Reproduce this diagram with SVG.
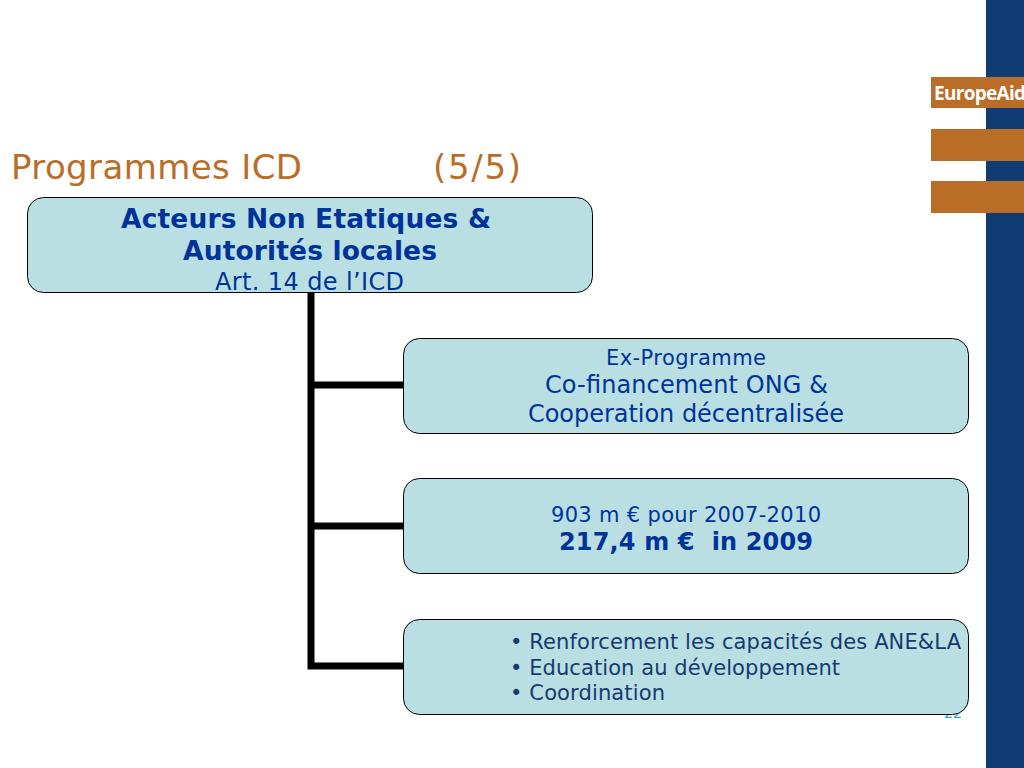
<svg xmlns="http://www.w3.org/2000/svg" width="1024" height="768" viewBox="0 0 1024 768">
<style>
text{font-family:"DejaVu Sans",Verdana,sans-serif;fill:#003399;white-space:pre}
.box{fill:#b9dfe3;stroke:#000;stroke-width:1}
.conn{fill:none;stroke:#000;stroke-width:7}
.or{fill:#b96d27}
.title{fill:#b96d27;font-size:34px}
.dark{fill:#16396f}
</style>
<rect width="1024" height="768" fill="#fff"/>
<rect x="986" y="0" width="38" height="768" fill="#0f3c73"/>
<rect class="or" x="931" y="77" width="93" height="31"/>
<rect class="or" x="931" y="129" width="93" height="32"/>
<rect class="or" x="931" y="181" width="93" height="32"/>
<text x="934" y="100" font-size="19" font-weight="bold" textLength="92" style="fill:#fff;font-family:'Open Sans',sans-serif">EuropeAid</text>
<text class="title" x="11" y="179" textLength="291">Programmes ICD</text>
<text class="title" x="433" y="179" textLength="88">(5/5)</text>
<text x="944" y="718" font-size="14" textLength="18" style="fill:#2f9fe0">22</text>
<g id="connectors">
<path class="conn" d="M311 293V666H404M311 385H404M311 526H404"/>
</g>
<g id="node-top">
<rect class="box" x="27.500" y="197.500" width="565" height="95" rx="16"/>
<text x="121" y="228" font-size="26.500" font-weight="bold" textLength="370">Acteurs Non Etatiques &amp;</text>
<text x="183" y="260" font-size="26.500" font-weight="bold" textLength="254">Autorités locales</text>
<text x="215" y="290" font-size="24" textLength="189">Art. 14 de l’ICD</text>
</g>
<g id="node-ex">
<rect class="box" x="403.500" y="338.500" width="565" height="95" rx="16"/>
<text x="606" y="365" font-size="21" textLength="160">Ex-Programme</text>
<text x="545" y="393" font-size="24" textLength="283">Co-financement ONG &amp;</text>
<text x="528" y="422" font-size="24" textLength="316">Cooperation décentralisée</text>
</g>
<g id="node-903">
<rect class="box" x="403.500" y="478.500" width="565" height="95" rx="16"/>
<text x="551" y="522" font-size="21" textLength="270">903 m € pour 2007-2010</text>
<text x="559" y="550" font-size="24" font-weight="bold" textLength="254">217,4 m €  in 2009</text>
</g>
<g id="node-list">
<rect class="box" x="403.500" y="619.500" width="565" height="95" rx="16"/>
<text class="dark" x="510" y="649" font-size="21" textLength="451">• Renforcement les capacités des ANE&amp;LA</text>
<text class="dark" x="510" y="675" font-size="21" textLength="330">• Education au développement</text>
<text class="dark" x="510" y="700" font-size="21" textLength="155">• Coordination</text>
</g>
</svg>
